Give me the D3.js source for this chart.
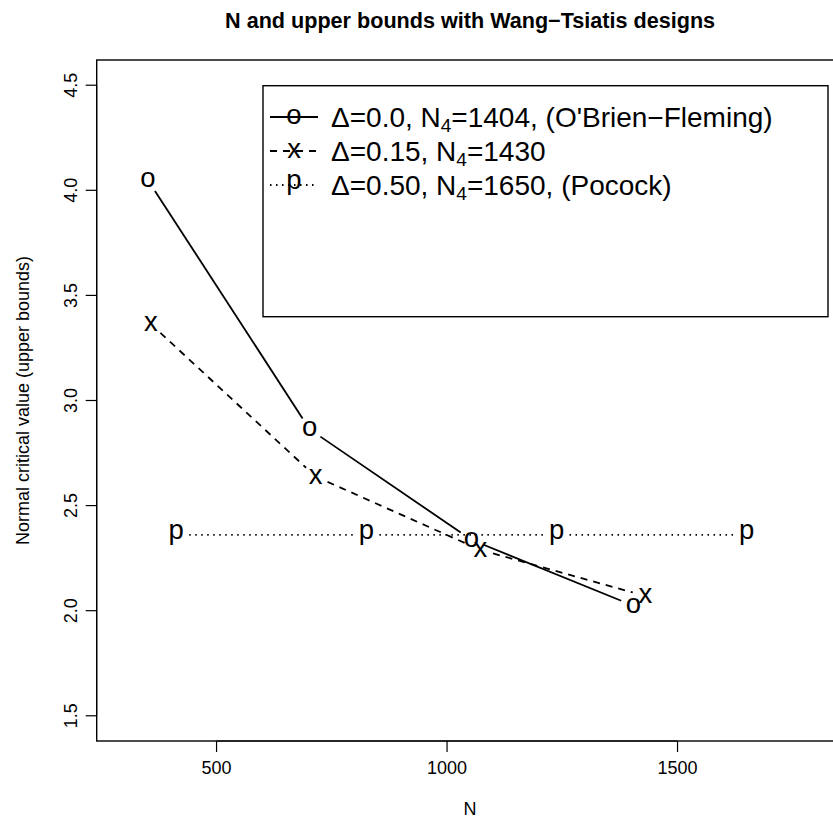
<!DOCTYPE html>
<html>
<head>
<meta charset="utf-8">
<script src="https://cdn.jsdelivr.net/npm/d3@7"></script>
<style>
  body { margin: 0; background: #fff; }
  svg { display: block; font-family: "Liberation Sans", Arial, Helvetica, sans-serif; }
</style>
</head>
<body>
<svg id="chart" width="833" height="829"></svg>
<script>
// design data: sample size at each of 4 looks and the upper normal bound
const obfN = [351, 702, 1053, 1404]
const obfZ = [4.049, 2.863, 2.337, 2.024]
const wtN = [357.5, 715, 1072.5, 1430]
const wtZ = [3.364, 2.638, 2.289, 2.070]
const pocN = [412.5, 825, 1237.5, 1650]
const pocZ = [2.361, 2.361, 2.361, 2.361]

const seriesPch = ['o', 'x', 'p']
const legendDelta = ['0.0', '0.15', '0.50']
const legendN4 = ['1404', '1430', '1650']
const legendTail = [', (O\'Brien\u2212Fleming)', '', ', (Pocock)']

const xTicks = [500, 1000, 1500]
const yTicks = [1.5, 2.0, 2.5, 3.0, 3.5, 4.0, 4.5]

const series = [
  { n: obfN, z: obfZ, dash: null },
  { n: wtN, z: wtZ, dash: '7,6' },
  { n: pocN, z: pocZ, dash: '1.5,4.5' }
]

const margin = { left: 96.7, top: 60, right: 843.5, bottom: 741 }
const svg = d3.select('#chart')

// R style: xlim c(300,1800), ylim c(1.5,4.5), both padded 4%
const x = d3.scaleLinear().domain([240, 1860]).range([margin.left, margin.right])
const y = d3.scaleLinear().domain([1.38, 4.62]).range([margin.bottom, margin.top])

const baseFont = 18
const mainFont = 21.6
const pchFont = 27.5
const legFont = 28
const tickLen = 11
const lwd = 1.8
// vertical shift so the glyph ink is centered on the point
const pchDy = { o: 0.26, x: 0.26, p: 0.16 }

// plot box
svg.append('rect')
  .attr('x', margin.left).attr('y', margin.top)
  .attr('width', margin.right - margin.left)
  .attr('height', margin.bottom - margin.top)
  .attr('fill', 'none').attr('stroke', '#000').attr('stroke-width', 1.4)

// x axis
const gx = svg.append('g')
gx.append('line')
  .attr('x1', x(xTicks[0])).attr('x2', x(xTicks[xTicks.length - 1]))
  .attr('y1', margin.bottom).attr('y2', margin.bottom)
  .attr('stroke', '#000')
gx.selectAll('.xt').data(xTicks).enter().append('line')
  .attr('x1', d => x(d)).attr('x2', d => x(d))
  .attr('y1', margin.bottom).attr('y2', margin.bottom + tickLen)
  .attr('stroke', '#000').attr('stroke-width', 1.2)
gx.selectAll('.xl').data(xTicks).enter().append('text')
  .attr('x', d => x(d)).attr('y', 773.5)
  .attr('text-anchor', 'middle').attr('font-size', baseFont)
  .text(d => d)

// y axis
const gy = svg.append('g')
gy.append('line')
  .attr('x1', margin.left).attr('x2', margin.left)
  .attr('y1', y(yTicks[0])).attr('y2', y(yTicks[yTicks.length - 1]))
  .attr('stroke', '#000')
gy.selectAll('.yt').data(yTicks).enter().append('line')
  .attr('x1', margin.left - tickLen).attr('x2', margin.left)
  .attr('y1', d => y(d)).attr('y2', d => y(d))
  .attr('stroke', '#000').attr('stroke-width', 1.2)
gy.selectAll('.yl').data(yTicks).enter().append('text')
  .attr('transform', d => `translate(76.5,${y(d)}) rotate(-90)`)
  .attr('text-anchor', 'middle').attr('font-size', baseFont)
  .text(d => d.toFixed(1))

// titles
svg.append('text')
  .attr('x', (margin.left + margin.right) / 2).attr('y', 28)
  .attr('text-anchor', 'middle').attr('font-size', mainFont).attr('font-weight', 'bold')
  .text('N and upper bounds with Wang\u2212Tsiatis designs')
svg.append('text')
  .attr('x', (margin.left + margin.right) / 2).attr('y', 814.5)
  .attr('text-anchor', 'middle').attr('font-size', baseFont)
  .text('N')
svg.append('text')
  .attr('transform', `translate(28.5,${(margin.top + margin.bottom) / 2}) rotate(-90)`)
  .attr('text-anchor', 'middle').attr('font-size', baseFont)
  .text('Normal critical value (upper bounds)')

// type = "b": segments with gaps around each point character
const gap = 13
series.forEach((s, i) => {
  const pts = s.n.map((n, k) => [x(n), y(s.z[k])])
  const g = svg.append('g')
  for (let k = 0; k < pts.length - 1; k++) {
    const [x0, y0] = pts[k]
    const [x1, y1] = pts[k + 1]
    const len = Math.hypot(x1 - x0, y1 - y0)
    if (len <= 2 * gap) continue
    const ux = (x1 - x0) / len
    const uy = (y1 - y0) / len
    g.append('line')
      .attr('x1', x0 + ux * gap).attr('y1', y0 + uy * gap)
      .attr('x2', x1 - ux * gap).attr('y2', y1 - uy * gap)
      .attr('stroke', '#000').attr('stroke-width', lwd)
      .attr('stroke-dasharray', s.dash)
  }
  g.selectAll('text').data(pts).enter().append('text')
    .attr('x', d => d[0]).attr('y', d => d[1] + pchDy[seriesPch[i]] * pchFont)
    .attr('text-anchor', 'middle').attr('font-size', pchFont)
    .text(seriesPch[i])
})

// legend
const leg = { x0: 263, y0: 85.7, x1: 828, y1: 316.7, row: 34, first: 117 }
svg.append('rect')
  .attr('x', leg.x0).attr('y', leg.y0)
  .attr('width', leg.x1 - leg.x0).attr('height', leg.y1 - leg.y0)
  .attr('fill', '#fff').attr('stroke', '#000').attr('stroke-width', 1.4)
series.forEach((s, i) => {
  const cy = leg.first + i * leg.row
  svg.append('line')
    .attr('x1', leg.x0 + 7).attr('x2', leg.x0 + 55)
    .attr('y1', cy).attr('y2', cy)
    .attr('stroke', '#000').attr('stroke-width', lwd)
    .attr('stroke-dasharray', s.dash)
  svg.append('text')
    .attr('x', leg.x0 + 31).attr('y', cy + pchDy[seriesPch[i]] * pchFont)
    .attr('text-anchor', 'middle').attr('font-size', pchFont)
    .text(seriesPch[i])
  const t = svg.append('text')
    .attr('x', leg.x0 + 68).attr('y', cy + 0.36 * legFont)
    .attr('font-size', legFont)
  t.append('tspan').text(`\u0394=${legendDelta[i]}, N`)
  t.append('tspan').attr('font-size', legFont * 0.68).attr('dy', 0.17 * legFont).text('4')
  t.append('tspan').attr('dy', -0.17 * legFont).text(`=${legendN4[i]}${legendTail[i]}`)
})
</script>
</body>
</html>
